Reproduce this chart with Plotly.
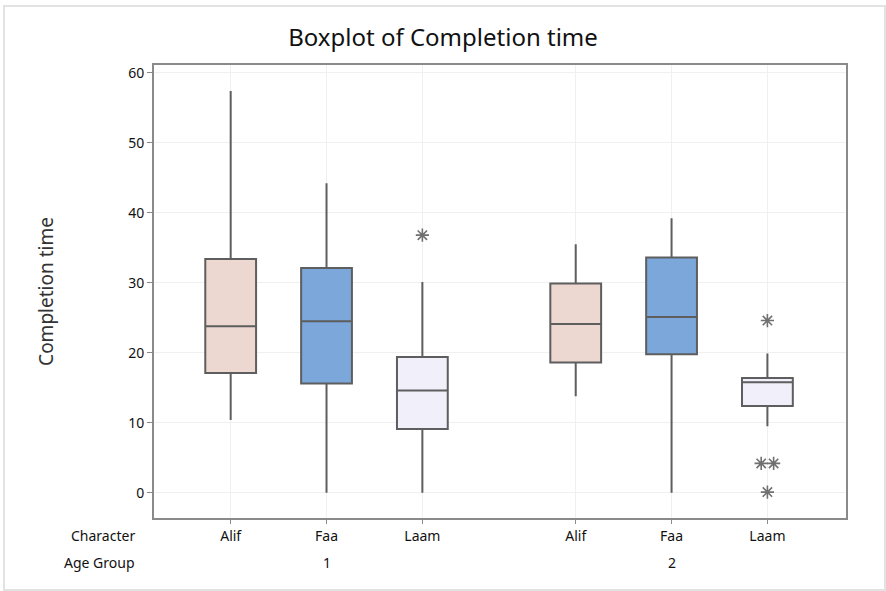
import plotly.graph_objects as go

# ---------------- data ----------------
characters = ["Alif", "Faa", "Laam"]
age_groups = ["1", "2"]

# per character, values for age group 1 and 2
lower_whisker = {"Alif": [10.4, 13.8], "Faa": [0.0, 0.0], "Laam": [0.0, 9.5]}
q1_vals       = {"Alif": [17.1, 18.6], "Faa": [15.6, 19.8], "Laam": [9.1, 12.4]}
median_vals   = {"Alif": [23.8, 24.1], "Faa": [24.5, 25.1], "Laam": [14.6, 15.8]}
q3_vals       = {"Alif": [33.4, 29.9], "Faa": [32.1, 33.6], "Laam": [19.4, 16.4]}
upper_whisker = {"Alif": [57.4, 35.5], "Faa": [44.2, 39.2], "Laam": [30.1, 19.9]}

# outliers: (character, age group index, value)
outlier_char = ["Laam", "Laam", "Laam", "Laam", "Laam"]
outlier_group = [0, 1, 1, 1, 1]
outlier_vals = [36.8, 24.6, 4.2, 4.2, 0.1]
outlier_offset = [0.0, 0.0, -0.065, 0.065, 0.0]  # side-by-side display for ties

y_ticks = [0, 10, 20, 30, 40, 50, 60]

# ---------------- style ----------------
fills = {"Alif": "#EDD7D1", "Faa": "#7BA7DA", "Laam": "#F1F0FA"}
line_col = "#5E5E5E"
group_gap = 0.6
font_fam = "Noto Sans"
txt_col = "#111111"

def pos(ci, gi):
    return gi * (len(characters) + group_gap) + ci

fig = go.Figure()
for ci, ch in enumerate(characters):
    fig.add_trace(go.Box(
        x=[pos(ci, gi) for gi in range(len(age_groups))],
        q1=q1_vals[ch], median=median_vals[ch], q3=q3_vals[ch],
        lowerfence=lower_whisker[ch], upperfence=upper_whisker[ch],
        boxpoints=False, width=0.53, whiskerwidth=0,
        fillcolor=fills[ch], line=dict(color=line_col, width=2),
        showlegend=False, hoverinfo="skip",
    ))

fig.add_trace(go.Scatter(
    x=[pos(characters.index(c), g) + o for c, g, o in zip(outlier_char, outlier_group, outlier_offset)],
    y=outlier_vals, mode="markers",
    marker=dict(symbol="asterisk-open", size=11, color="#707070",
                line=dict(width=1.6, color="#707070")),
    showlegend=False, hoverinfo="skip",
))

tickvals = [pos(ci, gi) for gi in range(len(age_groups)) for ci in range(len(characters))]
ticktext = [ch for gi in range(len(age_groups)) for ch in characters]

W, H = 886, 591
L, R, T, B = 154, 40, 65, 73
pw, ph = W - L - R, H - T - B

def px_x(x):
    return (x - L) / pw

def px_y(y):
    return (H - B - y) / ph

annotations = [
    dict(text="Character", xref="paper", yref="paper", x=px_x(137), y=px_y(535),
         xanchor="right", yanchor="middle", showarrow=False,
         font=dict(family=font_fam, size=14, color=txt_col)),
    dict(text="Age Group", xref="paper", yref="paper", x=px_x(137), y=px_y(562),
         xanchor="right", yanchor="middle", showarrow=False,
         font=dict(family=font_fam, size=14, color=txt_col)),
]
for gi, g in enumerate(age_groups):
    annotations.append(dict(text=g, xref="x", yref="paper", x=pos(1, gi), y=px_y(562),
                            xanchor="center", yanchor="middle", showarrow=False,
                            font=dict(family=font_fam, size=14, color=txt_col)))

fig.update_layout(
    width=W, height=H,
    margin=dict(l=L, r=R, t=T, b=B),
    paper_bgcolor="white", plot_bgcolor="white",
    title=dict(text="Boxplot of Completion time", x=0.5, xref="container",
               y=1 - 38 / H, yref="container", xanchor="center", yanchor="middle",
               font=dict(family=font_fam, size=24, color=txt_col)),
    font=dict(family=font_fam, size=14, color=txt_col),
    annotations=annotations,
    shapes=[dict(type="rect", xref="paper", yref="paper",
                 x0=px_x(4), x1=px_x(885), y0=px_y(590), y1=px_y(6),
                 line=dict(color="#E2E2E2", width=2), layer="below")],
)
fig.update_xaxes(
    range=[-0.8, pos(2, 1) + 0.82], tickvals=tickvals, ticktext=ticktext,
    showgrid=True, gridcolor="#F0F0F0", gridwidth=1, zeroline=False,
    showline=True, linecolor="#8A8A8A", linewidth=2, mirror=True,
    ticks="outside", ticklen=4, tickcolor="#8A8A8A", tickwidth=1,
    tickfont=dict(family=font_fam, size=14, color=txt_col),
)
fig.update_yaxes(
    range=[-3.6, 61.1], tickvals=y_ticks,
    showgrid=True, gridcolor="#F0F0F0", gridwidth=1, zeroline=False,
    showline=True, linecolor="#8A8A8A", linewidth=2, mirror=True,
    ticks="outside", ticklen=5, tickcolor="#8A8A8A", tickwidth=1,
    tickfont=dict(family=font_fam, size=14, color=txt_col),
    title=dict(text="Completion time", standoff=70,
               font=dict(family=font_fam, size=19, color="#333")),
)

fig.write_html("out.html", config={"displayModeBar": False},
               post_script="document.body.style.margin='0';")
